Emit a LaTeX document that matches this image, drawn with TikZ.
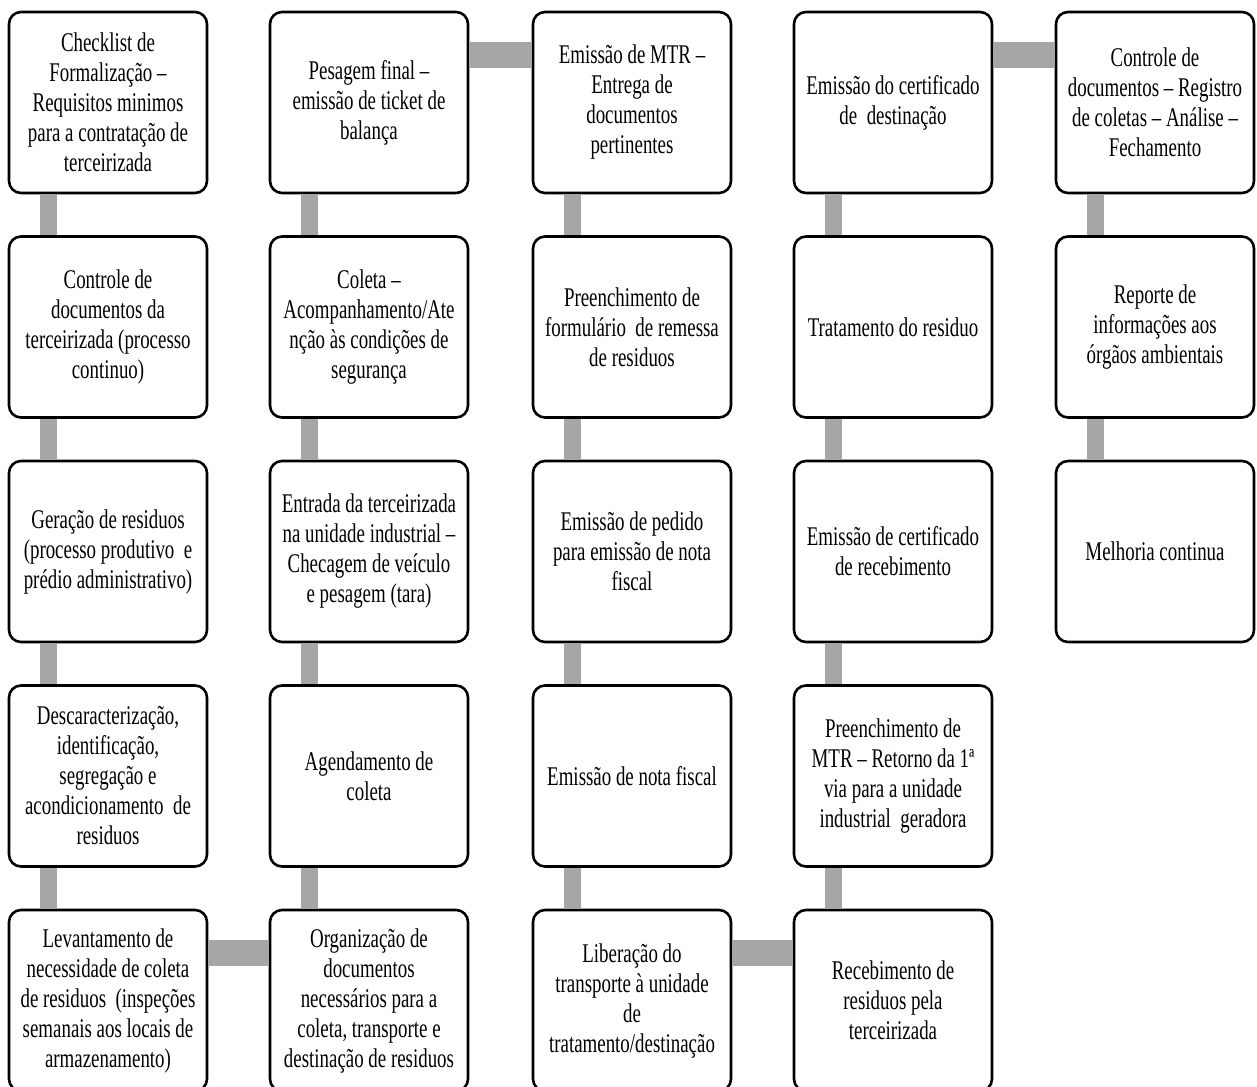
\documentclass[tikz,border=0pt]{standalone}
\usepackage{fontspec}
\setmainfont{Liberation Serif}[FakeStretch=0.7]
\usepackage{xcolor}
\usepackage{tikz}
\definecolor{bargray}{HTML}{A6A6A6}
\newcommand{\stagefont}{\fontsize{13.5}{15}\selectfont}

\begin{document}
\begin{tikzpicture}[x=0.5pt,y=-0.5pt,
    stage/.style={draw,fill=white,line width=1.3pt,rounded corners=6pt,
      minimum width=99pt,minimum height=90.5pt,inner sep=2pt,
      align=center,font=\stagefont},
    vbar/.style={draw=bargray,line width=8.5pt},
    hbar/.style={draw=bargray,line width=13pt}]
    \useasboundingbox (0,0) rectangle (1257,1086);
    %
    \node[stage] (checklist) at (108,102.5) {Checklist de\\Formalização –\\Requisitos minimos\\para a contratação de\\terceirizada};
    \node[stage] (ctrlterc) at (108,327) {Controle de\\documentos da\\terceirizada (processo\\continuo)};
    \node[stage] (geracao) at (108,551.5) {Geração de residuos\\(processo produtivo\ \ e\\prédio administrativo)};
    \node[stage] (descar) at (108,776) {Descaracterização,\\identificação,\\segregação e\\acondicionamento\ \ de\\residuos};
    \node[stage] (levant) at (108,1000.5) {Levantamento de\\necessidade de coleta\\de residuos\ \ (inspeções\\semanais aos locais de\\armazenamento)};
    %
    \node[stage] (pesagem) at (369,102.5) {Pesagem final –\\emissão de ticket de\\balança};
    \node[stage] (coleta) at (369,327) {Coleta –\\Acompanhamento/Ate\\nção às condições de\\segurança};
    \node[stage] (entrada) at (369,551.5) {Entrada da terceirizada\\na unidade industrial –\\Checagem de veículo\\e pesagem (tara)};
    \node[stage] (agenda) at (369,776) {Agendamento de\\coleta};
    \node[stage] (organiz) at (369,1000.5) {Organização de\\documentos\\necessários para a\\coleta, transporte e\\destinação de residuos};
    %
    \node[stage] (mtr) at (632,102.5) {Emissão de MTR –\\Entrega de\\documentos\\pertinentes};
    \node[stage] (remessa) at (632,327) {Preenchimento de\\formulário\ \ de remessa\\de residuos};
    \node[stage] (pedido) at (632,551.5) {Emissão de pedido\\para emissão de nota\\fiscal};
    \node[stage] (nota) at (632,776) {Emissão de nota fiscal};
    \node[stage] (liberacao) at (632,1000.5) {Liberação do\\transporte à unidade\\de\\tratamento/destinação};
    %
    \node[stage] (certdest) at (893,102.5) {Emissão do certificado\\de\ \ destinação};
    \node[stage] (tratam) at (893,327) {Tratamento do residuo};
    \node[stage] (certreceb) at (893,551.5) {Emissão de certificado\\de recebimento};
    \node[stage] (mtrret) at (893,776) {Preenchimento de\\MTR – Retorno da 1ª\\via para a unidade\\industrial\ \ geradora};
    \node[stage] (receb) at (893,1000.5) {Recebimento de\\residuos pela\\terceirizada};
    %
    \node[stage] (ctrldoc) at (1155,102.5) {Controle de\\documentos – Registro\\de coletas – Análise –\\Fechamento};
    \node[stage] (reporte) at (1155,327) {Reporte de\\informações aos\\órgãos ambientais};
    \node[stage] (melhoria) at (1155,551.5) {Melhoria continua};
    %
    \draw[vbar] ([xshift=20.5pt]checklist.south west) -- ([xshift=20.5pt]ctrlterc.north west);
    \draw[vbar] ([xshift=20.5pt]ctrlterc.south west) -- ([xshift=20.5pt]geracao.north west);
    \draw[vbar] ([xshift=20.5pt]geracao.south west) -- ([xshift=20.5pt]descar.north west);
    \draw[vbar] ([xshift=20.5pt]descar.south west) -- ([xshift=20.5pt]levant.north west);
    \draw[hbar] ([yshift=-22pt]levant.north east) -- ([yshift=-22pt]organiz.north west);
    \draw[vbar] ([xshift=20.5pt]organiz.north west) -- ([xshift=20.5pt]agenda.south west);
    \draw[vbar] ([xshift=20.5pt]agenda.north west) -- ([xshift=20.5pt]entrada.south west);
    \draw[vbar] ([xshift=20.5pt]entrada.north west) -- ([xshift=20.5pt]coleta.south west);
    \draw[vbar] ([xshift=20.5pt]coleta.north west) -- ([xshift=20.5pt]pesagem.south west);
    \draw[hbar] ([yshift=-22pt]pesagem.north east) -- ([yshift=-22pt]mtr.north west);
    \draw[vbar] ([xshift=20.5pt]mtr.south west) -- ([xshift=20.5pt]remessa.north west);
    \draw[vbar] ([xshift=20.5pt]remessa.south west) -- ([xshift=20.5pt]pedido.north west);
    \draw[vbar] ([xshift=20.5pt]pedido.south west) -- ([xshift=20.5pt]nota.north west);
    \draw[vbar] ([xshift=20.5pt]nota.south west) -- ([xshift=20.5pt]liberacao.north west);
    \draw[hbar] ([yshift=-22pt]liberacao.north east) -- ([yshift=-22pt]receb.north west);
    \draw[vbar] ([xshift=20.5pt]receb.north west) -- ([xshift=20.5pt]mtrret.south west);
    \draw[vbar] ([xshift=20.5pt]mtrret.north west) -- ([xshift=20.5pt]certreceb.south west);
    \draw[vbar] ([xshift=20.5pt]certreceb.north west) -- ([xshift=20.5pt]tratam.south west);
    \draw[vbar] ([xshift=20.5pt]tratam.north west) -- ([xshift=20.5pt]certdest.south west);
    \draw[hbar] ([yshift=-22pt]certdest.north east) -- ([yshift=-22pt]ctrldoc.north west);
    \draw[vbar] ([xshift=20.5pt]ctrldoc.south west) -- ([xshift=20.5pt]reporte.north west);
    \draw[vbar] ([xshift=20.5pt]reporte.south west) -- ([xshift=20.5pt]melhoria.north west);
\end{tikzpicture}
\end{document}
